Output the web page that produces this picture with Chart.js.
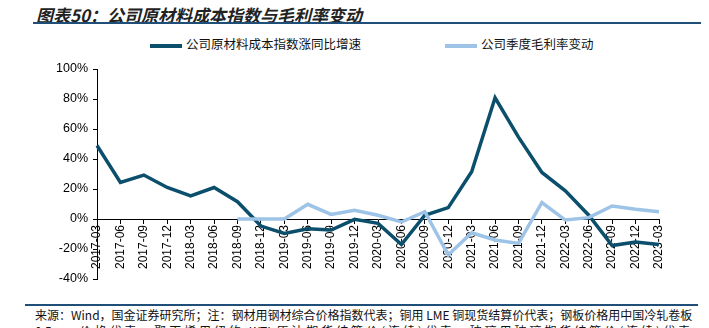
<!DOCTYPE html>
<html>
<head>
<meta charset="utf-8">
<script src="https://cdn.jsdelivr.net/npm/chart.js@4/dist/chart.umd.min.js"></script>
<style>
  html, body { margin: 0; padding: 0; background: #fff; }
  body { width: 709px; height: 328px; overflow: hidden; position: relative;
         font-family: "Liberation Sans", "Noto Sans CJK SC", sans-serif; }
  .title { position: absolute; left: 36px; top: 2px; font-size: 17px; font-weight: bold;
           font-style: italic; color: #222; font-family: "Noto Sans CJK SC", sans-serif; white-space: nowrap; }
  .title-line { position: absolute; left: 33px; top: 22px; width: 668px; height: 2px; background: #1f4e79; }
  .legend { position: absolute; top: 35px; left: 0; width: 709px; height: 18px; font-size: 12.5px;
            font-family: "Noto Sans CJK SC", sans-serif; color: #111; }
  .legend-item { position: absolute; top: 0; white-space: nowrap; line-height: 18px; }
  .legend-item i { display: inline-block; width: 32px; height: 4px; vertical-align: middle; margin-right: 4px; }
  .chart-box { position: absolute; left: 0; top: 55px; width: 709px; height: 240px; }
  .foot-line { position: absolute; left: 25px; top: 304px; width: 673px; height: 2px; background: #1f4e79; }
  .foot { position: absolute; left: 35px; width: 655px; font-size: 12px; color: #111; white-space: nowrap;
          font-family: "Noto Sans CJK SC", sans-serif; text-align: justify; text-align-last: justify; }
</style>
</head>
<body>
<div class="title">图表50：公司原材料成本指数与毛利率变动</div>
<div class="title-line"></div>
<div class="legend" id="legend"></div>
<div class="chart-box"><canvas id="chart"></canvas></div>
<div class="foot-line"></div>
<div class="foot" style="top:306px">来源：Wind，国金证券研究所；注：钢材用钢材综合价格指数代表；铜用 LME 铜现货结算价代表；钢板价格用中国冷轧卷板</div>
<div class="foot" style="top:322px">0.5mm 价格代表；聚丙烯用纽约 WTI 原油期货结算价(连续)代表，玻璃用玻璃期货结算价(连续)代表</div>
<script>
const QUARTERS = [
  '2017-03', '2017-06', '2017-09', '2017-12',
  '2018-03', '2018-06', '2018-09', '2018-12',
  '2019-03', '2019-06', '2019-09', '2019-12',
  '2020-03', '2020-06', '2020-09', '2020-12',
  '2021-03', '2021-06', '2021-09', '2021-12',
  '2022-03', '2022-06', '2022-09', '2022-12',
  '2023-03'
];

// 公司原材料成本指数涨同比增速 (%)
const COST_INDEX_YOY = [
  49, 24.4, 29.3, 21, 15.4, 21, 11.5, -4.7,
  -9.6, -6.5, -7.4, -0.2, -2.9, -17, 2.5, 7.6,
  31.5, 80.8, 54.6, 31, 18.8, 2.5, -17.7, -15.4,
  -17
];

// 公司季度毛利率变动 (%)
const MARGIN_CHANGE = [
  null, null, null, null, null, null, 0, 0,
  0, 9.8, 3.1, 5.8, 2.5, -2, 4.9, -24,
  -9.2, -14, -16.3, 11, -0.7, 0.9, 8.7, 6.5,
  4.9
];

const Y_TICKS = [-40, -20, 0, 20, 40, 60, 80, 100];

const DARK = '#0b4f6c';
const LIGHT = '#9dc3e6';

const datasets = [
  {
    label: '公司原材料成本指数涨同比增速',
    data: COST_INDEX_YOY,
    borderColor: DARK,
    backgroundColor: DARK,
    borderWidth: 3.5,
    pointRadius: 0,
    tension: 0,
    order: 1
  },
  {
    label: '公司季度毛利率变动',
    data: MARGIN_CHANGE,
    borderColor: LIGHT,
    backgroundColor: LIGHT,
    borderWidth: 3.5,
    pointRadius: 0,
    tension: 0,
    order: 0
  }
];

// legend as html, placed like the original
const legendPos = [150, 445];
document.getElementById('legend').innerHTML = datasets.map(function (ds, i) {
  return '<span class="legend-item" style="left:' + legendPos[i] + 'px"><i style="background:' +
    ds.borderColor + '"></i>' + ds.label + '</span>';
}).join('');

new Chart(document.getElementById('chart'), {
  type: 'line',
  data: {
    labels: QUARTERS,
    datasets: datasets
  },
  options: {
    responsive: true,
    maintainAspectRatio: false,
    animation: false,
    layout: {
      padding: { left: 0, right: 50, top: 14, bottom: 16 }
    },
    plugins: {
      legend: { display: false },
      tooltip: { enabled: false }
    },
    scales: {
      x: {
        type: 'category',
        position: { y: 0 },
        offset: false,
        afterFit: function (scale) {
          // labels hang inside the plot, below the zero line
          scale.height = 0;
        },
        grid: {
          drawOnChartArea: false,
          drawTicks: true,
          tickLength: 4,
          color: '#000'
        },
        border: { color: '#000', width: 1 },
        ticks: {
          autoSkip: false,
          maxRotation: 90,
          minRotation: 90,
          padding: 2,
          color: '#000',
          font: { family: 'Liberation Sans', size: 12 }
        }
      },
      y: {
        min: -40,
        max: 100,
        afterFit: function (scale) {
          scale.width = 97;
        },
        afterBuildTicks: function (scale) {
          scale.ticks = Y_TICKS.map(function (v) { return { value: v }; });
        },
        grid: {
          drawOnChartArea: false,
          drawTicks: true,
          tickLength: 4,
          color: '#000'
        },
        border: { color: '#000', width: 1 },
        ticks: {
          padding: 5,
          color: '#000',
          font: { family: 'Liberation Sans', size: 12.5 },
          callback: function (v) { return v + '%'; }
        }
      }
    }
  }
});
</script>
</body>
</html>
